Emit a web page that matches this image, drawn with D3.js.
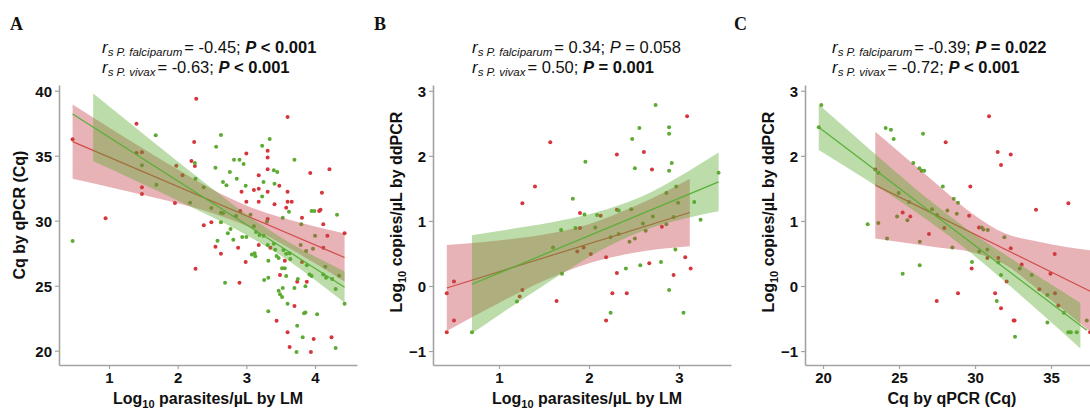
<!DOCTYPE html>
<html><head><meta charset="utf-8">
<script src="https://cdn.jsdelivr.net/npm/d3@7"></script>
<style>
html,body{margin:0;padding:0;background:#fff;}
svg{display:block;font-family:"Liberation Sans",Arial,sans-serif;}
</style></head>
<body><svg id="chart" width="1090" height="409"></svg>
<script>
// ---------------- DATA ----------------
const panelLetters = ["A", "B", "C"];
const speciesNames = ["P. falciparum", "P. vivax"];
const rsValues = [["-0.45", "-0.63"], ["0.34", "0.50"], ["-0.39", "-0.72"]];
const pTexts = [["P < 0.001", "P < 0.001"], ["P = 0.058", "P = 0.001"], ["P = 0.022", "P < 0.001"]];
const pBold = [[true, true], [false, true], [true, true]];

const xTitles = ["Log10 parasites/µL by LM", "Log10 parasites/µL by LM", "Cq by qPCR (Cq)"];
const yTitles = ["Cq by qPCR (Cq)", "Log10 copies/µL by ddPCR", "Log10 copies/µL by ddPCR"];

const xTicksA = [1, 2, 3, 4];
const yTicksA = [20, 25, 30, 35, 40];
const xTicksB = [1, 2, 3];
const yTicksB = [-1, 0, 1, 2, 3];
const xTicksC = [20, 25, 30, 35];
const yTicksC = [-1, 0, 1, 2, 3];

// Panel A points [x, y]
const redA = [[0.47,36.26],[0.95,30.18],[1.40,37.46],[1.40,35.20],[1.48,35.26],[1.48,32.57],[1.48,32.05],[1.96,31.36],[1.98,34.23],[2.07,33.49],[2.20,34.60],[2.24,36.05],[2.25,34.20],[2.27,39.38],[2.26,26.31],
[3.60,37.98],[3.31,35.38],[3.31,34.87],[3.00,35.18],[3.31,33.95],[3.18,33.49],[3.93,33.67],[4.21,33.95],[3.48,32.69],[3.11,32.36],[3.18,32.46],[2.93,32.23],[3.31,32.23],[3.60,32.23],[4.10,32.15],[3.00,31.46],[3.18,31.46],[3.41,31.26],[3.60,31.46],[3.66,31.46],[3.58,31.00],[4.06,30.75],[4.08,30.85],[2.91,30.75],[3.31,30.13],[3.81,30.23],[2.38,29.65],[2.49,29.88],[4.12,29.72],[4.43,29.03],[4.18,28.85],[2.55,28.00],[3.18,28.13],[3.35,27.92],[4.12,27.92],[2.88,27.92],[2.63,27.46],[3.56,26.92],[2.99,26.82],[3.81,26.82],[3.49,25.82],[3.74,25.31],[3.88,25.31],[2.90,25.23],[3.70,23.44],[3.44,22.31],[3.60,21.41],[3.98,20.90],[4.24,21.03],[3.63,20.28],[3.94,19.90]];
const greenA = [[0.47,28.44],[1.48,34.26],[1.69,32.77],[1.68,36.57],[2.18,31.38],[2.25,34.44],[2.26,33.23],
[2.63,36.59],[2.56,35.69],[3.34,36.28],[3.23,35.77],[2.82,34.69],[2.90,34.69],[2.96,34.36],[2.55,34.08],[3.40,33.88],[3.45,33.75],[3.70,34.69],[2.76,33.75],[2.86,33.23],[3.25,32.98],[2.66,32.98],[2.71,32.72],[2.99,32.69],[3.41,32.85],[2.38,32.57],[3.23,31.87],[3.62,30.69],[3.95,30.75],[3.99,30.75],[4.32,30.46],[2.49,30.98],[2.63,30.62],[2.66,30.57],[2.85,30.36],[3.06,30.46],[3.30,29.92],[3.53,30.23],[3.80,29.72],[2.63,29.88],[2.77,29.36],[2.73,29.03],[3.11,29.57],[3.14,29.13],[3.19,28.90],[3.25,28.85],[2.94,28.75],[3.00,28.75],[4.00,28.85],[2.58,28.46],[2.81,28.54],[3.31,28.13],[3.40,28.23],[3.42,27.77],[3.79,28.13],[3.87,27.67],[3.97,27.85],[3.08,27.41],[3.12,27.49],[3.13,27.26],[3.44,27.28],[3.47,27.13],[3.54,27.75],[3.58,27.46],[3.63,27.49],[3.64,27.05],[3.32,26.92],[3.88,26.57],[4.15,26.46],[3.52,26.34],[3.56,26.34],[3.58,25.75],[3.92,25.87],[3.95,25.75],[3.75,25.52],[4.12,25.87],[4.16,25.62],[4.25,25.52],[4.35,25.77],[3.26,25.44],[3.32,25.62],[2.69,25.23],[3.53,24.82],[3.47,24.62],[3.49,24.34],[3.52,24.13],[3.70,24.82],[3.86,24.95],[4.30,24.74],[4.43,23.62],[3.60,23.62],[3.32,23.03],[3.84,22.88],[3.86,22.93],[4.03,22.80],[3.74,21.92],[3.82,21.03],[3.73,19.90],[4.30,20.20]];

// Panel B points
const redB = [[3.09,2.61],[1.57,2.21],[2.31,2.02],[2.61,2.06],[2.70,1.79],[1.40,1.53],[1.26,1.27],[1.90,1.12],[2.13,1.08],[2.31,1.17],[2.81,0.91],[1.90,0.89],[1.87,0.53],[1.94,0.59],[2.02,0.49],[3.07,0.44],[2.19,0.44],[3.13,0.27],[2.67,0.35],[2.31,0.20],[2.94,0.17],[0.50,0.07],[0.42,-0.11],[1.26,-0.06],[1.23,-0.16],[1.64,-0.23],[2.26,-0.11],[2.42,-0.11],[0.50,-0.53],[2.19,-0.53],[0.42,-0.71]];
const greenB = [[2.74,2.78],[2.56,2.43],[2.89,2.44],[2.89,2.34],[2.48,2.26],[1.96,1.91],[2.92,1.89],[2.51,1.81],[2.89,1.77],[3.44,1.74],[2.97,1.53],[2.86,1.43],[1.82,1.34],[3.17,1.29],[2.99,1.28],[1.95,1.10],[2.09,1.09],[2.33,1.16],[2.47,1.18],[2.71,1.07],[2.94,1.06],[3.24,1.02],[2.60,0.96],[2.86,0.95],[1.69,0.86],[1.85,0.89],[2.07,0.90],[2.63,0.85],[2.33,0.80],[2.24,0.75],[2.51,0.73],[2.45,0.68],[1.60,0.59],[2.96,0.56],[2.41,0.27],[2.57,0.32],[2.80,0.37],[1.70,0.19],[1.20,-0.24],[2.89,-0.06],[2.24,-0.41],[3.05,-0.41],[0.70,-0.71]];

// Panel C points
const redC = [[30.92,2.61],[28.07,2.21],[31.49,2.06],[32.35,2.02],[31.71,1.86],[23.44,1.79],[29.69,1.53],[34.01,1.17],[36.14,1.27],[29.61,1.08],[25.24,1.13],[25.74,1.07],[26.97,0.80],[27.98,0.89],[30.26,0.90],[32.35,0.58],[35.24,0.49],[30.81,0.43],[31.53,0.43],[29.78,0.27],[33.07,0.33],[32.08,0.07],[34.96,0.19],[34.23,-0.05],[35.26,-0.11],[35.48,-0.30],[37.57,-0.71],[32.54,-0.53],[32.60,-0.53],[31.71,-0.34],[31.32,-0.11],[28.88,-0.11],[27.48,-0.23]];
const greenC = [[19.89,2.78],[19.72,2.44],[24.12,2.43],[24.47,2.40],[24.65,2.26],[26.58,2.34],[25.94,1.89],[26.34,1.81],[26.49,1.77],[26.66,1.77],[23.64,1.74],[27.88,1.53],[24.98,1.43],[25.66,1.29],[28.60,1.34],[28.88,1.28],[27.17,1.18],[28.18,1.16],[28.80,1.11],[24.87,1.07],[25.55,1.01],[23.64,0.97],[22.94,0.95],[27.50,1.09],[26.37,0.68],[28.51,0.59],[30.44,0.90],[30.55,0.87],[30.84,0.86],[31.93,0.75],[30.28,0.53],[30.81,0.56],[31.53,0.36],[29.80,0.37],[26.36,0.32],[25.24,0.19],[32.94,0.27],[31.71,0.17],[33.73,0.17],[34.76,-0.14],[35.84,-0.41],[34.76,-0.56],[37.35,-0.53],[36.14,-0.71],[36.30,-0.71],[36.69,-0.71],[32.63,-0.78],[31.43,-0.23],[24.21,0.73]];

// Fitted lines (endpoints) and confidence bands
const fitA_red_x = [0.47, 4.43], fitA_red_y = [36.08, 27.17];
const fitA_green_x = [0.47, 4.43], fitA_green_y = [38.20, 24.89];
const fitB_red_x = [0.42, 3.12], fitB_red_y = [-0.03, 1.13];
const fitB_green_x = [0.70, 3.44], fitB_green_y = [0.026, 1.60];
const fitC_red_x = [23.44, 37.6], fitC_red_y = [1.55, -0.084];
const fitC_green_x = [19.72, 37.35], fitC_green_y = [2.44, -0.68];

const bandA_red_x = [0.47,1.0,1.5,2.0,2.5,3.0,3.5,4.0,4.43];
const bandA_red_lo = [33.22,32.60,31.98,31.34,30.60,29.61,28.26,26.72,25.32];
const bandA_red_hi = [38.94,37.18,35.54,33.94,32.42,31.17,30.26,29.56,29.02];
const bandA_green_x = [0.77,1.0,1.5,2.0,2.5,3.0,3.5,4.0,4.43];
const bandA_green_lo = [34.59,34.03,32.80,31.56,30.28,28.91,27.32,25.44,23.69];
const bandA_green_hi = [39.79,38.81,36.68,34.56,32.48,30.49,28.72,27.24,26.09];

const bandB_red_x = [0.42,1.0,1.5,2.0,2.5,3.12];
const bandB_red_lo = [-0.69,-0.26,0.08,0.35,0.51,0.61];
const bandB_red_hi = [0.63,0.70,0.79,0.95,1.22,1.65];
const bandB_green_x = [0.70,1.2,1.7,2.2,2.7,3.1,3.44];
const bandB_green_lo = [-0.73,-0.26,0.19,0.60,0.90,1.05,1.15];
const bandB_green_hi = [0.78,0.89,1.01,1.18,1.45,1.76,2.05];

const bandC_red_x = [23.44,25.5,27.57,29.78,31.97,34.17,36.0,37.6];
const bandC_red_lo = [0.73,0.66,0.59,0.52,0.33,-0.06,-0.40,-0.71];
const bandC_red_hi = [2.37,1.96,1.55,1.12,0.81,0.68,0.60,0.55];
const bandC_green_x = [19.72,22,24.5,27,29.5,32,34.5,36.93];
const bandC_green_lo = [2.09,1.76,1.39,0.99,0.55,0.06,-0.45,-0.96];
const bandC_green_hi = [2.79,2.32,1.81,1.32,0.87,0.48,0.10,-0.26];

// ---------------- STYLE / LAYOUT ----------------
const COL = {
  redPt: "#d5363c", greenPt: "#5dab35",
  redLine: "#d24a48", greenLine: "#5aae38",
  redBand: "rgb(198,65,73)", greenBand: "rgb(87,168,42)",
  axis: "#a3a3a3"
};

const panels = [
  { px: [59, 357], py: [365, 85], xd: [0.272, 4.611], yd: [18.9, 40.44], xt: xTicksA, yt: yTicksA,
    red: redA, green: greenA,
    fitR: [fitA_red_x, fitA_red_y], fitG: [fitA_green_x, fitA_green_y],
    bandR: [bandA_red_x, bandA_red_lo, bandA_red_hi], bandG: [bandA_green_x, bandA_green_lo, bandA_green_hi],
    letterX: 10, annX: 102, xTitleX: 208, yTitleX: 25, yTitleY: 215 },
  { px: [433, 731], py: [365, 85], xd: [0.267, 3.578], yd: [-1.214, 3.089], xt: xTicksB, yt: yTicksB,
    red: redB, green: greenB,
    fitR: [fitB_red_x, fitB_red_y], fitG: [fitB_green_x, fitB_green_y],
    bandR: [bandB_red_x, bandB_red_lo, bandB_red_hi], bandG: [bandB_green_x, bandB_green_lo, bandB_green_hi],
    letterX: 374, annX: 472, xTitleX: 587, yTitleX: 402, yTitleY: 212 },
  { px: [805, 1100], py: [365, 85], xd: [18.816, 38.22], yd: [-1.214, 3.089], xt: xTicksC, yt: yTicksC,
    red: redC, green: greenC,
    fitR: [fitC_red_x, fitC_red_y], fitG: [fitC_green_x, fitC_green_y],
    bandR: [bandC_red_x, bandC_red_lo, bandC_red_hi], bandG: [bandC_green_x, bandC_green_lo, bandC_green_hi],
    letterX: 734, annX: 832, xTitleX: 952, yTitleX: 774, yTitleY: 212 }
];

const svg = d3.select("#chart");

function addTitle(sel, str) {
  const m = str.match(/^Log10(.*)$/);
  if (m) {
    sel.append("tspan").text("Log");
    sel.append("tspan").attr("font-size", 11).attr("dy", 4).text("10");
    sel.append("tspan").attr("dy", -4).text(m[1]);
  } else {
    sel.text(str);
  }
}

panels.forEach((p, i) => {
  const g = svg.append("g");
  const x = d3.scaleLinear().domain(p.xd).range(p.px);
  const y = d3.scaleLinear().domain(p.yd).range(p.py);

  g.append("g").selectAll("circle").data(p.red).join("circle")
    .attr("cx", d => x(d[0])).attr("cy", d => y(d[1])).attr("r", 2).attr("fill", COL.redPt);
  g.append("g").selectAll("circle").data(p.green).join("circle")
    .attr("cx", d => x(d[0])).attr("cy", d => y(d[1])).attr("r", 2).attr("fill", COL.greenPt);

  function band(b, color) {
    const pts = b[0].map((v, k) => ({ x: v, lo: b[1][k], hi: b[2][k] }));
    const area = d3.area().curve(d3.curveMonotoneX)
      .x(d => x(d.x)).y0(d => y(d.lo)).y1(d => y(d.hi));
    g.append("path").datum(pts).attr("d", area).attr("fill", color).attr("fill-opacity", 0.4);
  }
  function fit(f, color) {
    const pts = f[0].map((v, k) => [v, f[1][k]]);
    g.append("path").datum(pts).attr("d", d3.line().x(d => x(d[0])).y(d => y(d[1])))
      .attr("fill", "none").attr("stroke", color).attr("stroke-width", 1.2);
  }
  band(p.bandR, COL.redBand);
  fit(p.fitR, COL.redLine);
  band(p.bandG, COL.greenBand);
  fit(p.fitG, COL.greenLine);

  const xa = g.append("g").attr("transform", `translate(0,${p.py[0]})`)
    .call(d3.axisBottom(x).tickValues(p.xt).tickSize(4).tickSizeOuter(0).tickPadding(3).tickFormat(d3.format("d")));
  const ya = g.append("g").attr("transform", `translate(${p.px[0]},0)`)
    .call(d3.axisLeft(y).tickValues(p.yt).tickSize(4).tickSizeOuter(0).tickPadding(3).tickFormat(d3.format("d")));
  [xa, ya].forEach(a => {
    a.select(".domain").attr("stroke", COL.axis).attr("stroke-width", 1.6);
    a.selectAll(".tick line").attr("stroke", COL.axis).attr("stroke-width", 1.2);
    a.selectAll(".tick text").attr("fill", "#111").attr("font-size", 15).attr("font-weight", "bold")
      .attr("font-family", "'Liberation Sans',Arial,sans-serif");
  });
  ya.selectAll(".tick text").attr("dy", "0.36em");

  const xt = g.append("text").attr("x", p.xTitleX).attr("y", 404).attr("text-anchor", "middle")
    .attr("font-size", 16).attr("font-weight", "bold").attr("fill", "#111");
  addTitle(xt, xTitles[i]);
  const yt = g.append("text").attr("transform", `translate(${p.yTitleX},${p.yTitleY}) rotate(-90)`)
    .attr("text-anchor", "middle").attr("font-size", 16).attr("font-weight", "bold").attr("fill", "#111");
  addTitle(yt, yTitles[i]);

  g.append("text").attr("x", p.letterX).attr("y", 30).attr("font-family", "'Liberation Serif','Times New Roman',serif")
    .attr("font-weight", "bold").attr("font-size", 18).attr("fill", "#111").text(panelLetters[i]);

  [0, 1].forEach(k => {
    const t = g.append("text").attr("x", p.annX).attr("y", 53 + k * 20).attr("font-size", 16.5).attr("fill", "#111");
    t.append("tspan").attr("font-style", "italic").attr("font-size", 17).text("r");
    t.append("tspan").attr("font-style", "italic").attr("font-size", 11.5).attr("dy", 3).text("s " + speciesNames[k]);
    t.append("tspan").attr("dy", -3).attr("dx", 2).text("= " + rsValues[i][k] + "; ");
    const ptxt = pTexts[i][k];
    const bold = pBold[i][k] ? "bold" : "normal";
    t.append("tspan").attr("font-style", "italic").attr("font-weight", bold).text(ptxt.slice(0, 1));
    t.append("tspan").attr("font-weight", bold).text(ptxt.slice(1));
  });
});
</script>
</body></html>
